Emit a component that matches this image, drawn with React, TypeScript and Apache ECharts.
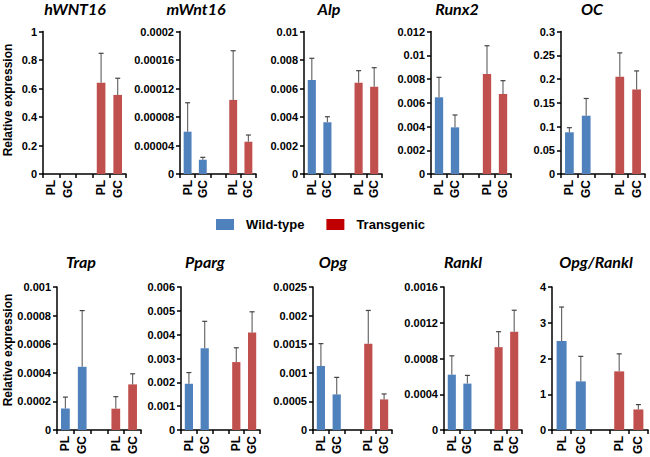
import React, { useEffect, useRef } from 'react';
import * as echarts from 'echarts';

// ---------- data ----------
const panelNames = ['hWNT16', 'mWnt16', 'Alp', 'Runx2', 'OC', 'Trap', 'Pparg', 'Opg', 'Rankl', 'Opg/Rankl'];
const categories = ['PL', 'GC', '', 'PL', 'GC'];
const seriesNames = ['Wild-type', 'Transgenic'];

const wildTypeMean: (number | null)[][] = [
  [null, null],
  [0.0000594, 0.00002],
  [0.0066, 0.00363],
  [0.00646, 0.00393],
  [0.0878, 0.1227],
  [0.000151, 0.000442],
  [0.00194, 0.00343],
  [0.00112, 0.000622],
  [0.000619, 0.000519],
  [2.49, 1.36],
];
const wildTypeErr: (number | null)[][] = [
  [null, null],
  [0.0000406, 0.0000034],
  [0.00152, 0.00039],
  [0.00168, 0.00104],
  [0.0097, 0.0363],
  [0.000079, 0.000393],
  [0.00047, 0.00113],
  [0.00039, 0.000298],
  [0.000211, 0.000092],
  [0.95, 0.7],
];
const transgenicMean: number[][] = [
  [0.64, 0.555],
  [0.000104, 0.0000453],
  [0.0064, 0.00613],
  [0.00842, 0.00674],
  [0.205, 0.178],
  [0.000149, 0.000319],
  [0.00285, 0.00409],
  [0.00151, 0.000535],
  [0.000927, 0.0011],
  [1.64, 0.575],
];
const transgenicErr: number[][] = [
  [0.207, 0.117],
  [0.000069, 0.0000094],
  [0.00085, 0.00133],
  [0.00238, 0.00112],
  [0.05, 0.039],
  [0.000084, 0.000074],
  [0.0006, 0.00087],
  [0.00058, 0.000095],
  [0.000173, 0.00024],
  [0.49, 0.135],
];
const axisMax = [1, 0.0002, 0.01, 0.012, 0.3, 0.001, 0.006, 0.0025, 0.0016, 4];
const axisStep = [0.2, 0.00004, 0.002, 0.002, 0.05, 0.0002, 0.001, 0.0005, 0.0004, 1];
const tickLabels: string[][] = [
  ['0', '0.2', '0.4', '0.6', '0.8', '1'],
  ['0', '0.00004', '0.00008', '0.00012', '0.00016', '0.0002'],
  ['0', '0.002', '0.004', '0.006', '0.008', '0.01'],
  ['0', '0.002', '0.004', '0.006', '0.008', '0.01', '0.012'],
  ['0', '0.05', '0.1', '0.15', '0.2', '0.25', '0.3'],
  ['0', '0.0002', '0.0004', '0.0006', '0.0008', '0.001'],
  ['0', '0.001', '0.002', '0.003', '0.004', '0.005', '0.006'],
  ['0', '0.0005', '0.001', '0.0015', '0.002', '0.0025'],
  ['0', '0.0004', '0.0008', '0.0012', '0.0016'],
  ['0', '1', '2', '3', '4'],
];
const yAxisTitle = 'Relative expression';

// ---------- layout / style ----------
const gridBoxes = [
  [43, 31.5, 83, 142.5],
  [180, 31.5, 76, 142.5],
  [304, 31.5, 78, 142.5],
  [431, 31.5, 80, 142.5],
  [561, 31.5, 84, 142.5],
  [57, 287, 84, 143.5],
  [181, 287, 79, 143.5],
  [313, 287, 79, 143.5],
  [444, 287, 78, 143.5],
  [552, 287, 96, 143.5],
];
const titlePos = [
  [75, 8], [196, 8], [329, 8], [457, 8], [592, 8],
  [81, 261], [205, 261], [333, 261], [463, 261], [596, 261],
];
const BLUE = '#4F81BD';
const RED = '#C0504D';
const LEGEND_RED = '#C00000';
const FONT = '"Liberation Sans", Arial, sans-serif';
const TITLE_FONT = 'Lato, "Liberation Sans", sans-serif';

function buildOption() {
  const grid: any[] = [];
  const xAxis: any[] = [];
  const yAxis: any[] = [];
  const series: any[] = [];
  const graphic: any[] = [];

  panelNames.forEach((name, i) => {
    const [l, t, w, h] = gridBoxes[i];
    grid.push({ left: l, top: t, width: w, height: h, containLabel: false });
    xAxis.push({
      type: 'category',
      gridIndex: i,
      data: categories,
      axisLine: { show: true, lineStyle: { color: '#000', width: 1.5 } },
      axisTick: { show: true, interval: 0, length: 4, lineStyle: { color: '#000', width: 1.5 } },
      axisLabel: {
        interval: 0,
        rotate: 90,
        margin: 6,
        color: '#000',
        fontWeight: 'bold',
        fontSize: 12,
        fontFamily: FONT,
      },
    });
    const step = axisStep[i];
    const labels = tickLabels[i];
    yAxis.push({
      type: 'value',
      gridIndex: i,
      min: 0,
      max: axisMax[i],
      interval: step,
      splitLine: { show: false },
      axisLine: { show: true, lineStyle: { color: '#000', width: 1.5 } },
      axisTick: { show: true, length: 4, lineStyle: { color: '#000', width: 1.5 } },
      axisLabel: {
        margin: 6,
        color: '#000',
        fontWeight: 'bold',
        fontSize: 11,
        fontFamily: FONT,
        formatter: (v: number) => labels[Math.round(v / step)] ?? '',
      },
    });

    const wt = wildTypeMean[i];
    const tg = transgenicMean[i];
    series.push({
      type: 'bar',
      name: seriesNames[0],
      xAxisIndex: i,
      yAxisIndex: i,
      barWidth: '52%',
      barGap: '-100%',
      itemStyle: { color: BLUE },
      data: [wt[0] ?? '-', wt[1] ?? '-', '-', '-', '-'],
    });
    series.push({
      type: 'bar',
      name: seriesNames[1],
      xAxisIndex: i,
      yAxisIndex: i,
      barWidth: '52%',
      barGap: '-100%',
      itemStyle: { color: RED },
      data: ['-', '-', '-', tg[0], tg[1]],
    });

    const errData: number[][] = [];
    [0, 1].forEach((k) => {
      const m = wt[k];
      const e = wildTypeErr[i][k];
      if (m != null && e != null) errData.push([k, m, e]);
    });
    [0, 1].forEach((k) => {
      errData.push([k + 3, tg[k], transgenicErr[i][k]]);
    });
    series.push({
      type: 'custom',
      name: 'error',
      xAxisIndex: i,
      yAxisIndex: i,
      encode: { x: 0, y: 1 },
      z: 5,
      data: errData,
      renderItem: (params: any, api: any) => {
        const x = api.value(0);
        const v = api.value(1);
        const e = api.value(2);
        const p0 = api.coord([x, v]);
        const p1 = api.coord([x, v + e]);
        const style = { stroke: '#6b6b6b', lineWidth: 1.2 };
        return {
          type: 'group',
          children: [
            { type: 'line', shape: { x1: p0[0], y1: p0[1], x2: p1[0], y2: p1[1] }, style },
            { type: 'line', shape: { x1: p1[0] - 2.5, y1: p1[1], x2: p1[0] + 2.5, y2: p1[1] }, style: { stroke: '#444', lineWidth: 1.2 } },
          ],
        };
      },
    });

    graphic.push({
      type: 'text',
      x: titlePos[i][0],
      y: titlePos[i][1],
      style: {
        text: name,
        textAlign: 'center',
        textVerticalAlign: 'middle',
        fontSize: 16,
        lineHeight: 14,
        fontWeight: 'bold',
        fontStyle: 'italic',
        fontFamily: TITLE_FONT,
        fill: '#000',
      },
    });
  });

  [[8, 100], [8, 350]].forEach(([x, y]) => {
    graphic.push({
      type: 'text',
      x,
      y,
      rotation: Math.PI / 2,
      style: {
        text: yAxisTitle,
        textAlign: 'center',
        textVerticalAlign: 'middle',
        fontSize: 12,
        fontWeight: 'bold',
        fontFamily: FONT,
        fill: '#000',
      },
    });
  });

  return {
    animation: false,
    backgroundColor: '#fff',
    grid,
    xAxis,
    yAxis,
    series,
    graphic,
    legend: {
      data: [
        { name: seriesNames[0], itemStyle: { color: BLUE } },
        { name: seriesNames[1], itemStyle: { color: LEGEND_RED } },
      ],
      left: 216,
      top: 218,
      padding: 0,
      icon: 'rect',
      itemWidth: 18,
      itemHeight: 11,
      itemGap: 22,
      selectedMode: false,
      textStyle: {
        fontSize: 13,
        fontWeight: 'bold',
        color: '#000',
        fontFamily: FONT,
        padding: [0, 0, 0, 7],
      },
    },
  };
}

export default function App() {
  const ref = useRef<HTMLDivElement>(null);
  useEffect(() => {
    if (!ref.current) return;
    const chart = echarts.init(ref.current, undefined, { renderer: 'svg' });
    chart.setOption(buildOption() as any);
    return () => chart.dispose();
  }, []);
  return (
    <div
      ref={ref}
      style={{ position: 'fixed', left: 0, top: 0, width: 650, height: 457, background: '#fff' }}
    />
  );
}
